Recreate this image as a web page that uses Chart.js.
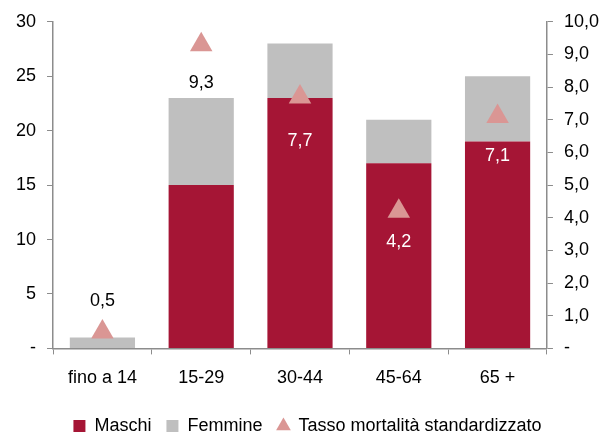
<!DOCTYPE html>
<html>
<head>
<meta charset="utf-8">
<script src="https://cdn.jsdelivr.net/npm/chart.js@4.4.1/dist/chart.umd.min.js"></script>
<style>
    html, body { margin: 0; padding: 0; background: #fff; }
    #wrap { width: 610px; height: 435px; }
</style>
</head>
<body>
<div id="wrap"><canvas id="chart" width="610" height="435"></canvas></div>
<script>
// Age groups and values
const categories = ['fino a 14', '15-29', '30-44', '45-64', '65 +'];
const maschi = [0, 15, 23, 17, 19];
const femmine = [1, 8, 5, 4, 6];
const tasso = [0.5, 9.3, 7.7, 4.2, 7.1];
const leftTicks = [0, 5, 10, 15, 20, 25, 30];
const rightTicks = [0, 1, 2, 3, 4, 5, 6, 7, 8, 9, 10];

const RED = '#A51535';
const GREY = '#BFBFBF';
const PINK = '#DA9694';
const AXIS = '#8C8C8C';
const FONT = "'Liberation Sans', Arial, sans-serif";

Chart.defaults.font.family = FONT;
Chart.defaults.font.size = 18;
Chart.defaults.color = '#000';

/**
 * Value labels for the rate series (Italian decimal comma)
 */
const rateLabels = {
    id: 'rateLabels',
    afterDatasetsDraw(chart, args, opts) {
        const meta = chart.getDatasetMeta(2);
        const ctx = chart.ctx;
        ctx.save();
        ctx.font = '18px ' + FONT;
        ctx.textAlign = 'center';
        ctx.textBaseline = 'middle';
        meta.data.forEach((pt, i) => {
            ctx.fillStyle = opts.colors[i];
            ctx.fillText(tasso[i].toFixed(1).replace('.', ','), pt.x, pt.y + opts.offsets[i]);
        });
        ctx.restore();
    }
};

const fmtRight = v => v === 0 ? '-' : v.toFixed(1).replace('.', ',');
const fmtLeft = v => v === 0 ? '-' : String(v);

new Chart(document.getElementById('chart'), {
    data: {
        labels: categories,
        datasets: [
            {
                type: 'bar',
                label: 'Maschi',
                data: maschi,
                backgroundColor: RED,
                yAxisID: 'y',
                stack: 's',
                order: 2,
                barPercentage: 0.66,
                categoryPercentage: 1,
                pointStyle: 'rect'
            },
            {
                type: 'bar',
                label: 'Femmine',
                data: femmine,
                backgroundColor: GREY,
                yAxisID: 'y',
                stack: 's',
                order: 2,
                barPercentage: 0.66,
                categoryPercentage: 1,
                pointStyle: 'rect'
            },
            {
                type: 'line',
                label: 'Tasso mortalità standardizzato',
                data: tasso,
                yAxisID: 'y1',
                showLine: false,
                pointStyle: 'triangle',
                pointRadius: 13,
                pointHoverRadius: 13,
                backgroundColor: PINK,
                borderColor: PINK,
                borderWidth: 0,
                order: 1
            }
        ]
    },
    options: {
        responsive: false,
        animation: false,
        layout: { padding: { left: 5, right: 0, top: 11, bottom: -10 } },
        plugins: {
            tooltip: { enabled: false },
            legend: {
                position: 'bottom',
                labels: {
                    usePointStyle: true,
                    boxWidth: 12,
                    boxHeight: 12,
                    padding: 15,
                    font: { size: 18 },
                    sort: (a, b) => a.datasetIndex - b.datasetIndex
                }
            },
            rateLabels: {
                offsets: [-31, 38, 44, 31, 40],
                colors: ['#000', '#000', '#fff', '#fff', '#fff']
            }
        },
        scales: {
            x: {
                stacked: true,
                grid: {
                    offset: true,
                    drawOnChartArea: false,
                    color: AXIS,
                    tickLength: 6
                },
                border: { color: AXIS, width: 1.5 },
                ticks: { padding: 13 }
            },
            y: {
                stacked: true,
                position: 'left',
                min: 0,
                max: 30,
                afterBuildTicks: axis => { axis.ticks = leftTicks.map(v => ({ value: v })); },
                grid: { drawOnChartArea: false, color: AXIS, tickLength: 6 },
                border: { color: AXIS, width: 1.5 },
                ticks: { callback: fmtLeft, padding: 11 }
            },
            y1: {
                position: 'right',
                min: 0,
                max: 10,
                afterBuildTicks: axis => { axis.ticks = rightTicks.map(v => ({ value: v })); },
                grid: { drawOnChartArea: false, color: AXIS, tickLength: 6 },
                border: { color: AXIS, width: 1.5 },
                ticks: { callback: fmtRight, padding: 11 }
            }
        }
    },
    plugins: [rateLabels]
});
</script>
</body>
</html>
